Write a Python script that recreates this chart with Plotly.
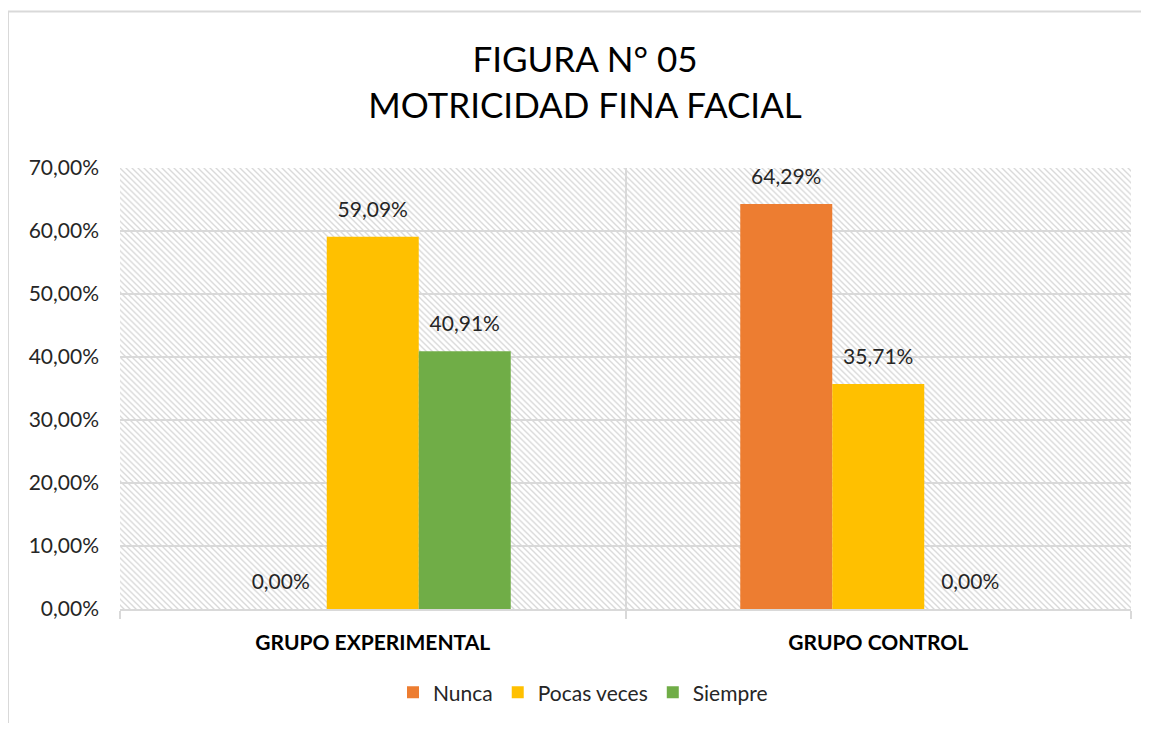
import base64
import plotly.graph_objects as go

categories = ["GRUPO EXPERIMENTAL", "GRUPO CONTROL"]
series_names = ["Nunca", "Pocas veces", "Siempre"]
nunca = [0.0, 0.6429]
pocas_veces = [0.5909, 0.3571]
siempre = [0.4091, 0.0]
colors = ["#ED7D31", "#FFC000", "#70AD47"]

# page body has an 8px margin; figure coords = reference coords - 8
OFF = 8
W, H = 1133, 715
X0, X1, Y0, Y1 = 120, 1131, 168, 616   # plot area in reference pixels
L, T = X0 - OFF, Y0 - OFF
R = W - (X1 - OFF)
B = H - (Y1 - OFF)
PW, PH = W - L - R, H - T - B


def px_x(x):
    return (x - X0) / PW


def px_y(y):
    return (Y1 - y) / PH


svg = f'''<svg xmlns="http://www.w3.org/2000/svg" width="{PW}" height="{PH}" viewBox="0 0 {PW} {PH}">
<defs><pattern id="p" width="6" height="6" patternUnits="userSpaceOnUse">
<path d="M0,0 L6,6 M-1,5 L1,7 M5,-1 L7,1" stroke="#d9d9d9" stroke-width="1.4"/>
</pattern></defs>
<rect width="{PW}" height="{PH}" fill="white"/>
<rect width="{PW}" height="{PH}" fill="url(#p)"/>
</svg>'''
src = "data:image/svg+xml;base64," + base64.b64encode(svg.encode()).decode()

BARGAP = 0.454
fig = go.Figure()
for name, vals, col in zip(series_names, [nunca, pocas_veces, siempre], colors):
    fig.add_trace(go.Bar(
        name=name, x=categories, y=vals, marker_color=col,
        marker_line_width=0, offsetgroup=name,
    ))
for name, vals in zip(series_names, [nunca, pocas_veces, siempre]):
    fig.add_trace(go.Scatter(
        x=categories, y=vals, mode="markers+text", offsetgroup=name,
        marker=dict(size=22, color="rgba(0,0,0,0)"),
        texttemplate="%{y:.2%}", textposition="top center",
        textfont=dict(size=21, color="#262626"), cliponaxis=False,
        showlegend=False, hoverinfo="skip",
    ))

fig.update_layout(
    width=W, height=H,
    margin=dict(l=L, r=R, t=T, b=B),
    paper_bgcolor="white", plot_bgcolor="rgba(0,0,0,0)",
    separators=",.",
    font=dict(family="Lato, 'Open Sans', sans-serif", color="#262626"),
    title=dict(text="FIGURA N° 05<br>MOTRICIDAD FINA FACIAL",
               x=(585 - OFF) / W, xref="container", xanchor="center",
               y=1 - 64 / H, yref="container", yanchor="middle",
               font=dict(size=35, color="#000000")),
    barmode="group", bargap=BARGAP, bargroupgap=0,
    scattermode="group", scattergap=BARGAP,
    showlegend=True,
    legend=dict(orientation="h", x=px_x(583), xanchor="center",
                y=px_y(701), yanchor="middle",
                font=dict(size=21, color="#262626"), itemclick=False),
    images=[dict(source=src, xref="paper", yref="paper", x=0, y=1,
                 sizex=1, sizey=1, sizing="stretch", layer="below",
                 xanchor="left", yanchor="top")],
    shapes=[dict(type="rect", xref="paper", yref="paper",
                 x0=px_x(8), x1=px_x(1170),
                 y0=px_y(760), y1=px_y(9),
                 line=dict(color="#d9d9d9", width=2), fillcolor="rgba(0,0,0,0)",
                 layer="below")],
)
fig.update_yaxes(range=[0, 0.7], dtick=0.1, tickformat=".2%",
                 showgrid=True, gridcolor="#d9d9d9", gridwidth=1.5,
                 zeroline=False, showline=False,
                 tickfont=dict(size=21, color="#262626"), ticklabelstandoff=20)
fig.update_xaxes(tickson="boundaries", showgrid=True, gridcolor="#d9d9d9", gridwidth=1.5,
                 showline=True, linecolor="#d9d9d9", linewidth=1.5,
                 ticks="outside", ticklen=8, tickcolor="#d9d9d9", tickwidth=1.5,
                 tickfont=dict(size=21, color="#000000", weight="bold"),
                 ticklabelstandoff=14)

fig.write_html("out.html")
